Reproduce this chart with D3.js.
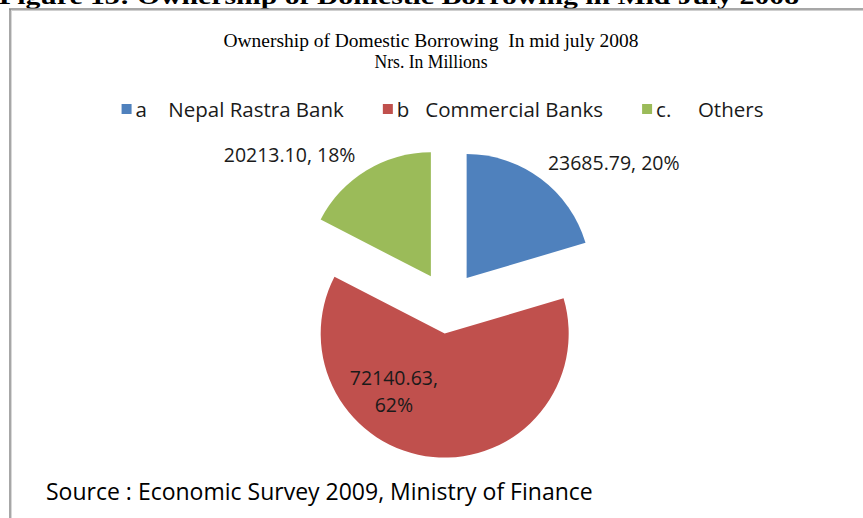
<!DOCTYPE html>
<html>
<head>
<meta charset="utf-8">
<script src="https://cdn.jsdelivr.net/npm/d3@7/dist/d3.min.js"></script>
<style>
  html, body { margin: 0; padding: 0; background: #fff; }
  svg { display: block; }
  text { white-space: pre; }
</style>
</head>
<body>
<script>
// Ownership of domestic borrowing, mid July 2008 (Nrs. in millions)
const categories = ["a    Nepal Rastra Bank", "b   Commercial Banks", "c.     Others"];
const values = [23685.79, 72140.63, 20213.10];
const colors = ["#4F81BD", "#C0504D", "#9BBB59"];

const figureCaption = "Figure 13: Ownership of Domestic Borrowing in Mid July 2008";
const chartTitle = ["Ownership of Domestic Borrowing  In mid july 2008", "Nrs. In Millions"];
const sourceNote = "Source : Economic Survey 2009, Ministry of Finance";

const W = 863, H = 518;
const sansFont = "'Open Sans', Lato, sans-serif";
const serifFont = "'Liberation Serif', 'DejaVu Serif', serif";

// pie geometry
const center = [447.5, 303.7];
const radius = 124;
const explode = [32, 30, 32];
// label offsets from each slice centroid (blue, red, green)
const labelShift = [[110, -65], [-45, -4], [-109, -68]];

const svg = d3.select("body").append("svg")
  .attr("width", W).attr("height", H);

// caption above the chart frame (clipped by page top)
svg.append("text")
  .attr("x", -1).attr("y", 4)
  .attr("font-family", serifFont)
  .attr("font-weight", "bold")
  .attr("font-size", 24)
  .attr("textLength", 800)
  .attr("lengthAdjust", "spacingAndGlyphs")
  .attr("fill", "#000")
  .text(figureCaption);

// chart frame: top and left edges
const frame = svg.append("g");
frame.append("line").attr("x1", 9).attr("x2", W).attr("y1", 9).attr("y2", 9)
  .attr("stroke", "#8a8a8a").attr("stroke-width", 1.5);
frame.append("line").attr("x1", 10).attr("x2", W).attr("y1", 10.5).attr("y2", 10.5)
  .attr("stroke", "#cfcfcf").attr("stroke-width", 1);
frame.append("line").attr("x1", 10).attr("x2", 10).attr("y1", 9).attr("y2", H)
  .attr("stroke", "#8a8a8a").attr("stroke-width", 1.5);
frame.append("line").attr("x1", 11.5).attr("x2", 11.5).attr("y1", 10).attr("y2", H)
  .attr("stroke", "#d8d8d8").attr("stroke-width", 1);

// chart title (condensed serif)
const titleWidths = [415, 113];
svg.append("g").selectAll("text")
  .data(chartTitle)
  .join("text")
  .attr("x", (d, i) => 431 - titleWidths[i] / 2)
  .attr("y", (d, i) => 47 + i * 21)
  .attr("font-family", serifFont)
  .attr("font-size", 18)
  .attr("textLength", (d, i) => titleWidths[i])
  .attr("lengthAdjust", "spacingAndGlyphs")
  .attr("fill", "#000")
  .text(d => d);

// legend, laid out from measured text widths and centred
const legend = svg.append("g");
const items = legend.selectAll("g").data(categories).join("g");
items.append("rect")
  .attr("width", 10).attr("height", 10)
  .attr("y", 104)
  .attr("fill", (d, i) => colors[i]);
items.append("text")
  .attr("x", 14)
  .attr("y", 117)
  .attr("font-family", sansFont)
  .attr("font-size", 20.5)
  .attr("fill", "#1a1a1a")
  .text(d => d);
const itemGap = 39;
let cursor = 0;
const starts = [];
items.each(function () {
  starts.push(cursor);
  const w = 14 + d3.select(this).select("text").node().getComputedTextLength();
  cursor += w + itemGap;
});
const legendWidth = cursor - itemGap;
const legendLeft = 442.5 - legendWidth / 2;
items.attr("transform", (d, i) => `translate(${legendLeft + starts[i]},0)`);

// percentages by largest-remainder rounding (sum to 100)
const total = d3.sum(values);
const raw = values.map(v => v / total * 100);
const pct = raw.map(Math.floor);
const remaining = 100 - d3.sum(pct);
d3.range(values.length)
  .sort((a, b) => (raw[b] - pct[b]) - (raw[a] - pct[a]))
  .slice(0, remaining)
  .forEach(i => pct[i] += 1);

const pie = d3.pie().sort(null).value(d => d)(values);
const arc = d3.arc().innerRadius(0).outerRadius(radius);

const slices = svg.append("g")
  .attr("transform", `translate(${center[0]},${center[1]})`);

const sliceG = slices.selectAll("g").data(pie).join("g")
  .attr("transform", (d, i) => {
    const a = (d.startAngle + d.endAngle) / 2;
    return `translate(${explode[i] * Math.sin(a)},${-explode[i] * Math.cos(a)})`;
  });

sliceG.append("path")
  .attr("d", arc)
  .attr("fill", (d, i) => colors[i]);

// data labels: value and share
const fmt = d3.format(".2f");
sliceG.each(function (d, i) {
  const c = arc.centroid(d);
  const lx = c[0] + labelShift[i][0];
  const ly = c[1] + labelShift[i][1];
  const lines = i === 1
    ? [fmt(d.data) + ",", pct[i] + "%"]
    : [fmt(d.data) + ", " + pct[i] + "%"];
  const t = d3.select(this).append("text")
    .attr("text-anchor", "middle")
    .attr("font-family", sansFont)
    .attr("font-size", 19.5)
    .attr("fill", "#1a1a1a");
  lines.forEach((s, k) => {
    t.append("tspan")
      .attr("x", lx)
      .attr("y", ly + 7 + (k - (lines.length - 1) / 2) * 27)
      .text(s);
  });
});

// source note
svg.append("text")
  .attr("x", 46).attr("y", 500)
  .attr("font-family", sansFont)
  .attr("font-size", 23)
  .attr("fill", "#000")
  .text(sourceNote);
</script>
</body>
</html>
